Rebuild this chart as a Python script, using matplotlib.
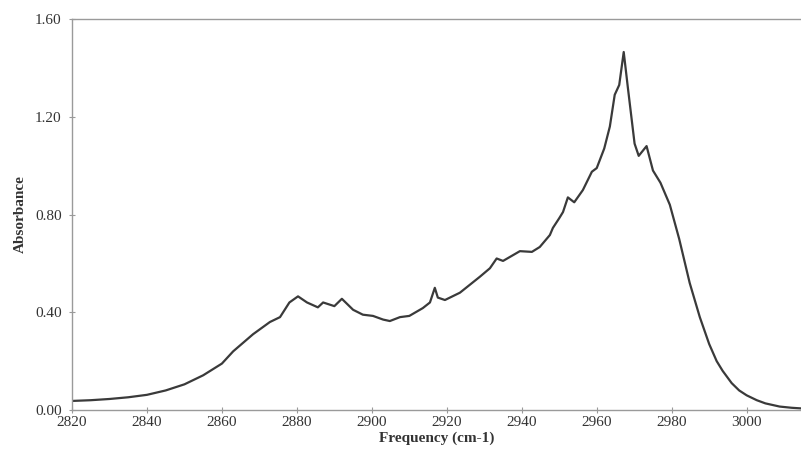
import matplotlib
matplotlib.use("Agg")
import matplotlib.pyplot as plt
from matplotlib.ticker import FormatStrFormatter, MultipleLocator

frequency = [2820, 2825, 2830, 2835, 2840, 2845, 2850, 2855, 2860, 2863, 2868.3, 2872.8, 2875.5,
             2878, 2880.3, 2882.7, 2885.6, 2887, 2890, 2892, 2895, 2897.6, 2900.3, 2903, 2904.8,
             2907.5, 2910, 2913.6, 2915.5, 2916.8, 2917.6, 2919.5, 2923.5, 2928.8, 2931.5,
             2933.3, 2935, 2939.5, 2942.7, 2944.8, 2947.5, 2948.3, 2950, 2951, 2952.3, 2954,
             2956.3, 2958.7, 2960, 2962, 2963.5, 2964.8, 2966, 2967.2, 2968.3, 2970.1, 2971.2,
             2973.3, 2975, 2977, 2979.5, 2982, 2984.8, 2987.5, 2990, 2992, 2993.6, 2996, 2998,
             3000, 3002.7, 3005, 3008.8, 3012, 3015]
absorbance = [0.037, 0.040, 0.045, 0.052, 0.062, 0.080, 0.105, 0.142, 0.19, 0.24, 0.31, 0.36,
              0.38, 0.44, 0.465, 0.44, 0.42, 0.44, 0.425, 0.455, 0.41, 0.39, 0.385, 0.37, 0.364,
              0.38, 0.385, 0.417, 0.44, 0.50, 0.46, 0.45, 0.48, 0.545, 0.58,
              0.62, 0.61, 0.65, 0.647, 0.667, 0.716, 0.745, 0.785, 0.81, 0.87, 0.85,
              0.90, 0.975, 0.99, 1.07, 1.16, 1.29, 1.33, 1.465, 1.32, 1.09, 1.04,
              1.08, 0.98, 0.93, 0.84, 0.70, 0.52, 0.38, 0.27, 0.20, 0.16, 0.11, 0.08,
              0.06, 0.04, 0.027, 0.014, 0.009, 0.006]

x_ticks = [2820, 2840, 2860, 2880, 2900, 2920, 2940, 2960, 2980, 3000]

plt.rcParams['font.family'] = ['Liberation Serif', 'DejaVu Serif']

fig = plt.figure(figsize=(8.01, 4.72), dpi=100)
ax = fig.add_axes([0.0899, 0.1314, 0.9101, 0.8283])

ax.plot(frequency, absorbance, color='#3a3a3a', linewidth=1.6)

ax.set_xlim(2820, 3014.5)
ax.set_ylim(0, 1.6)
ax.set_xticks(x_ticks)
ax.yaxis.set_major_locator(MultipleLocator(0.4))
ax.yaxis.set_major_formatter(FormatStrFormatter('%.2f'))

for side in ['left', 'bottom', 'top']:
    ax.spines[side].set_color('#9a9a9a')
    ax.spines[side].set_linewidth(1.0)
ax.spines['right'].set_visible(False)

ax.tick_params(axis='both', direction='inout', length=5, width=0.8, color='#9a9a9a',
               labelsize=11, labelcolor='#333333')
ax.tick_params(axis='y', pad=5)
ax.tick_params(axis='x', pad=2)

ax.set_xlabel('Frequency (cm-1)', fontsize=11, fontweight='bold', color='#333333', labelpad=2)
ax.set_ylabel('Absorbance', fontsize=11, fontweight='bold', color='#333333', labelpad=6)

fig.savefig('out.png', dpi=100)
